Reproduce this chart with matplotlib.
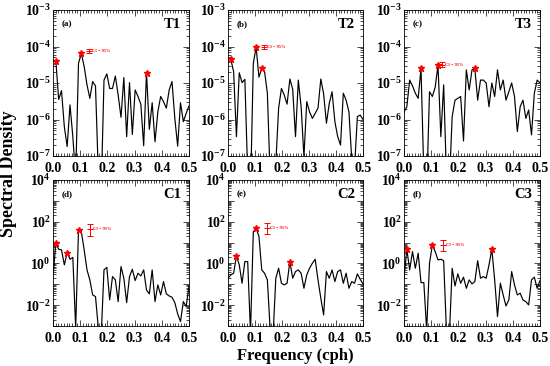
import numpy as np
import matplotlib
matplotlib.use("Agg")
import matplotlib.pyplot as plt
from matplotlib.ticker import LogLocator, MultipleLocator, FixedLocator, NullFormatter, FormatStrFormatter

plt.rcParams['font.family'] = ['Liberation Serif', 'DejaVu Serif']
plt.rcParams['font.weight'] = 'bold'
plt.rcParams['mathtext.fontset'] = 'custom'
plt.rcParams['mathtext.rm'] = 'Liberation Serif:bold'
plt.rcParams['mathtext.bf'] = 'Liberation Serif:bold'
plt.rcParams['mathtext.default'] = 'bf'

# frequency index k -> f = k/96 (cph)
k_full = np.arange(0, 49)
freq = k_full / 96.0

# log10 spectral density, k = 0..48 (nan = not drawn)
T1 = [np.nan, -4.39, -5.45, -5.21, -6.20, -6.74, -5.60, -6.47, -7.60, -4.46, -4.19,
      -4.55, -5.05, -5.42, -4.96, -5.08, -7.50, -8.00, -4.92, -4.75, -5.15,
      -5.15, -4.81, -5.33, -5.94, -4.85, -6.47, -4.99, -6.41, -5.19, -5.37,
      -5.58, -6.72, -4.72, -6.27, -5.54, -6.61, -5.79, -5.37, -5.51, -5.69,
      -5.19, -4.96, -5.97, -6.73, -5.54, -6.06, -5.83, -5.63]
T2 = [np.nan, -4.35, -4.69, -6.47, -4.72, -4.99, -4.90, -7.50, -8.00, -4.46, -4.02,
      -4.84, -4.60, -4.69, -5.28, -7.60, -7.80, -7.20, -5.69, -5.15, -5.33,
      -5.58, -4.89, -5.17, -6.47, -4.92, -5.65, -7.02, -5.51, -5.79, -5.97,
      -5.83, -5.69, -4.89, -5.30, -6.10, -5.56, -5.24, -6.06, -6.47, -6.70,
      -5.28, -5.47, -5.79, -7.10, -7.30, -5.92, -5.88, -6.00]
T3 = [-5.80, -5.65, -4.92, -5.08, -5.28, -5.42, -4.60, -7.50, -8.00, -5.24, -5.37,
      -5.12, -4.51, -6.47, -5.05, -7.60, -7.80, -5.92, -5.47, -5.42, -5.37,
      -6.59, -4.64, -5.19, -4.64, -4.60, -5.47, -4.92, -4.92, -5.00, -5.65,
      -5.00, -5.37, -4.64, -5.19, -4.92, -5.47, -5.24, -5.00, -5.37, -6.33,
      -5.65, -5.47, -5.97, -5.74, -6.42, -5.28, -4.92, -5.00]
C1 = [-0.63, 0.97, 0.68, 0.65, -0.07, 0.52, 0.20, 0.29, -3.10, 1.60, 1.52,
      0.65, -0.31, -0.79, -1.51, -1.59, -3.10, -3.50, -0.31, -0.19, -1.75,
      -0.63, -0.79, -1.83, -0.15, -0.71, -1.88, -0.63, -0.28, -0.82, -0.47,
      -0.60, -0.31, -1.27, -1.46, -0.31, -1.83, -1.03, -1.51, -0.87, -1.46,
      -1.56, -1.62, -1.88, -2.42, -2.79, -1.83, -2.07, -1.08]
C2 = [-0.71, -0.55, -0.47, 0.36, -0.07, -0.95, 0.09, 0.09, -3.30, 1.52, 1.68,
      1.30, -0.31, -0.47, -0.79, -3.20, -3.50, -0.71, -0.23, -0.95, -1.03,
      -0.95, 0.09, -0.71, -0.39, -0.31, -0.47, -1.19, -0.55, -0.23, 0.01,
      0.20, -0.79, -1.67, -2.47, -0.39, -0.71, -0.31, -0.87, -0.39, -0.31,
      -0.95, -0.47, -1.19, -0.87, -0.95, -0.50, -0.76, -0.98]
C3 = [-0.71, 0.68, -0.31, 0.57, -0.23, 0.49, -0.92, -0.92, -3.20, 0.01, 0.88,
      0.57, 0.17, 0.20, 0.13, -3.30, -3.50, -0.23, -1.08, -0.50, -0.95,
      -0.66, -1.19, -0.79, -0.98, -0.87, 0.13, -0.71, -0.63, -0.71, -0.07,
      0.68, -0.79, -2.55, -0.95, -1.51, -2.04, -1.75, -0.39, -1.03, -1.51,
      -1.43, -1.75, -1.83, -1.99, -0.79, -0.66, -1.19, -0.82]

series = [T1, T2, T3, C1, C2, C3]
names = ['T1', 'T2', 'T3', 'C1', 'C2', 'C3']
letters = ['(a)', '(b)', '(c)', '(d)', '(e)', '(f)']
# starred peaks (indices k)
peaks = [[1, 10, 33], [1, 10, 12], [6, 12, 25], [1, 5, 9], [3, 10, 22], [1, 10, 31]]
# confidence interval bars: x, center, low, high (data units)
ci_x = [0.134, 0.133, 0.139, 0.137, 0.145, 0.144]
ci_c = [7.7e-5, 9.5e-5, 3.2e-5, 44.0, 48.0, 7.6]
ci_lo = [6.5e-5, 8.3e-5, 2.7e-5, 21.0, 26.0, 4.0]
ci_hi = [8.7e-5, 1.09e-4, 3.7e-5, 78.0, 91.0, 13.2]
xtick_vals = [0.0, 0.1, 0.2, 0.3, 0.4, 0.5]

W, H = 550, 366
fig = plt.figure(figsize=(5.5, 3.66), dpi=100)
lefts = [53, 228, 404]
widths = [136, 135, 136]
tops = [10, 180]
ph = 146

for i in range(6):
    r, c = divmod(i, 3)
    ax = fig.add_axes([lefts[c] / W, 1 - (tops[r] + ph) / H, widths[c] / W, ph / H])
    vals = 10 ** np.array(series[i], dtype=float)
    ax.plot(freq, vals, color='black', lw=0.85)
    pk = peaks[i]
    ax.plot(freq[pk], vals[pk], ls='none', marker='*', color='red', ms=4.5, mec='red')
    yerr = [[ci_c[i] - ci_lo[i]], [ci_hi[i] - ci_c[i]]]
    ax.errorbar([ci_x[i]], [ci_c[i]], yerr=yerr, color='red', capsize=2.2,
                elinewidth=0.7, capthick=0.7, marker='_', ms=4, mew=0.7)
    ax.text(ci_x[i] + 0.01, ci_c[i], 'CI = 95%', color='red', fontsize=3.2,
            va='center', ha='left')
    ax.set_yscale('log')
    if r == 0:
        ax.set_ylim(1e-7, 1e-3)
        ax.yaxis.set_major_locator(FixedLocator([1e-7, 1e-6, 1e-5, 1e-4, 1e-3]))
        ax.yaxis.set_ticklabels([r'$\mathbf{10^{%d}}$' % e for e in [-7, -6, -5, -4, -3]])
    else:
        ax.set_ylim(1e-3, 1e4)
        ax.yaxis.set_major_locator(FixedLocator([10.0 ** e for e in range(-3, 5)]))
        ax.yaxis.set_ticklabels(['' if e % 2 else r'$\mathbf{10^{%d}}$' % e for e in range(-3, 5)])
    ax.yaxis.set_minor_locator(LogLocator(base=10, subs=np.arange(2, 10), numticks=20))
    ax.yaxis.set_minor_formatter(NullFormatter())
    ax.xaxis.set_major_locator(FixedLocator(xtick_vals))
    ax.xaxis.set_major_formatter(FormatStrFormatter('%.1f'))
    ax.xaxis.set_minor_locator(MultipleLocator(0.01))
    ax.set_xlim(0, 0.5)
    ax.tick_params(which='both', direction='in', top=True, right=True,
                   labelsize=10, width=0.5)
    ax.tick_params(axis='x', pad=4.5)
    ax.tick_params(axis='y', pad=1.5)
    ax.tick_params(which='major', length=4)
    ax.tick_params(which='minor', length=2)
    for s in ax.spines.values():
        s.set_linewidth(0.6)
    ax.text(0.066, 0.9, letters[i], transform=ax.transAxes, fontsize=6.5,
            fontweight='bold', ha='left', va='center')
    ax.text(0.94, 0.9, names[i], transform=ax.transAxes, fontsize=10.5,
            fontweight='bold', ha='right', va='center')

fig.text(9 / W, 1 - 174 / H, 'Spectral Density', rotation=90, fontsize=13,
         fontweight='bold', ha='center', va='center')
fig.text(295 / W, 1 - 356 / H, 'Frequency (cph)', fontsize=12,
         fontweight='bold', ha='center', va='center')

fig.savefig('out.png', dpi=100)
